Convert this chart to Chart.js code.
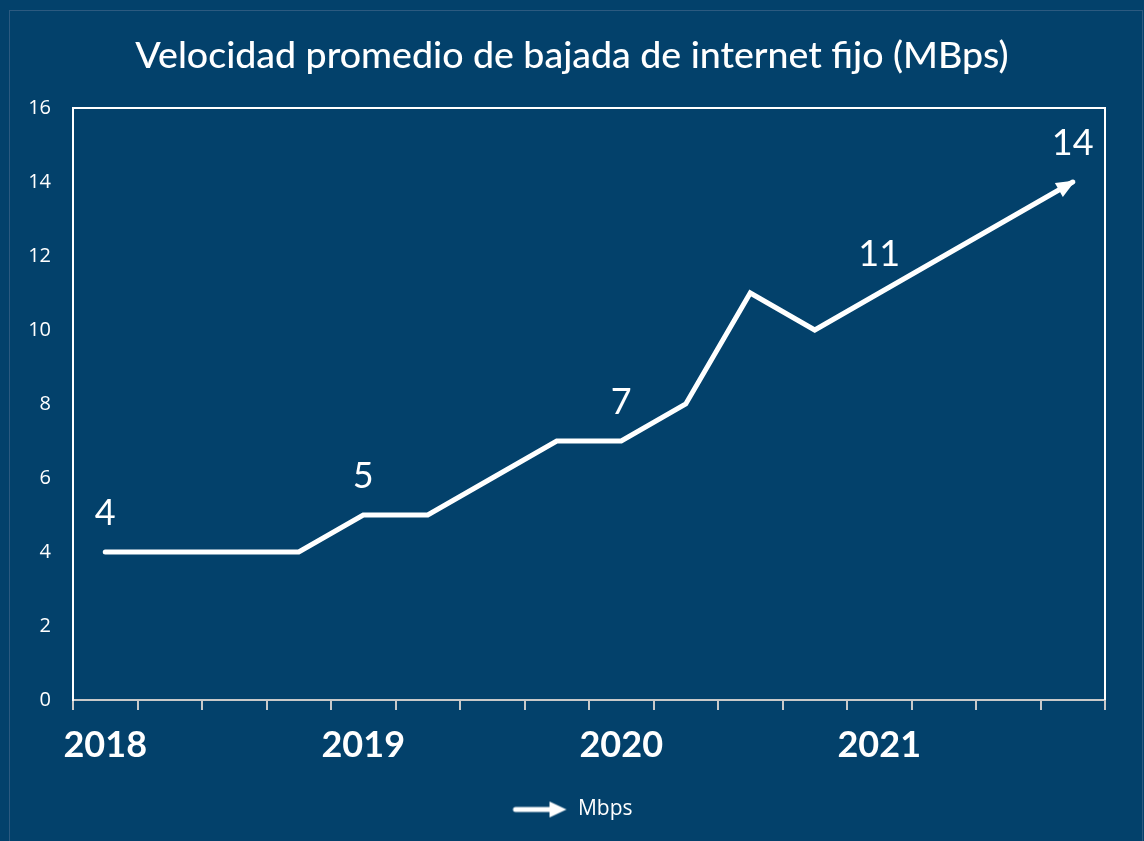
<!DOCTYPE html>
<html>
<head>
    <title>Velocidad promedio de bajada de internet fijo</title>
    <script src="https://cdn.jsdelivr.net/npm/chart.js"></script>
    <style>
        body {
            margin: 0;
            background: #03416b;
            width: 1144px;
            height: 841px;
            overflow: hidden;
        }
        .frame {
            position: absolute;
            left: 9px;
            top: 10px;
            width: 1132px;
            height: 840px;
            border: 1px solid #2c5a80;
        }
        .wrap {
            position: absolute;
            left: 0;
            top: 0;
            width: 1144px;
            height: 841px;
        }
    </style>
</head>
<body>
    <div class="frame"></div>
    <div class="wrap"><canvas id="speedChart" width="1144" height="841"></canvas></div>

    <script>
        // trimestres 2018 - 2021, solo se rotula el primero de cada año
        const quarters = ['2018', '', '', '', '2019', '', '', '', '2020', '', '', '', '2021', '', '', ''];
        const speed = [4, 4, 4, 4, 5, 5, 6, 7, 7, 8, 11, 10, 11, 12, 13, 14];
        const labelAt = [0, 4, 8, 12, 15];
        const yTicks = [0, 2, 4, 6, 8, 10, 12, 14, 16];

        const WHITE = '#ffffff';
        const AXIS_GRAY = '#c9c9c9';

        // icono de flecha para la leyenda
        const legendArrow = document.createElement('canvas');
        legendArrow.width = 56;
        legendArrow.height = 20;
        (function () {
            const c = legendArrow.getContext('2d');
            c.strokeStyle = WHITE;
            c.fillStyle = WHITE;
            c.lineWidth = 5;
            c.lineCap = 'round';
            c.beginPath();
            c.moveTo(4, 10);
            c.lineTo(40, 10);
            c.stroke();
            c.beginPath();
            c.moveTo(55, 10);
            c.lineTo(38, 2);
            c.lineTo(38, 18);
            c.closePath();
            c.fill();
        })();

        const overlay = {
            id: 'overlay',
            beforeDatasetsDraw(chart) {
                const { ctx, chartArea: a } = chart;
                ctx.save();
                ctx.strokeStyle = WHITE;
                ctx.lineWidth = 2;
                ctx.beginPath();
                ctx.moveTo(a.left, a.bottom);
                ctx.lineTo(a.left, a.top);
                ctx.lineTo(a.right, a.top);
                ctx.lineTo(a.right, a.bottom);
                ctx.stroke();
                ctx.restore();
            },
            afterDatasetsDraw(chart) {
                const { ctx } = chart;
                const pts = chart.getDatasetMeta(0).data;
                const p0 = pts[pts.length - 2], p1 = pts[pts.length - 1];
                const ang = Math.atan2(p1.y - p0.y, p1.x - p0.x);
                ctx.save();
                ctx.fillStyle = WHITE;
                ctx.translate(p1.x, p1.y);
                ctx.rotate(ang);
                ctx.beginPath();
                ctx.moveTo(3, 0);
                ctx.lineTo(-16, -8);
                ctx.lineTo(-16, 8);
                ctx.closePath();
                ctx.fill();
                ctx.restore();

                ctx.save();
                ctx.fillStyle = WHITE;
                ctx.font = '36px Lato';
                ctx.textAlign = 'center';
                ctx.textBaseline = 'middle';
                labelAt.forEach(i => {
                    ctx.fillText(String(speed[i]), pts[i].x, pts[i].y - 39);
                });
                ctx.restore();
            }
        };

        new Chart(document.getElementById('speedChart'), {
            type: 'line',
            data: {
                labels: quarters,
                datasets: [{
                    label: 'Mbps',
                    data: speed,
                    borderColor: WHITE,
                    backgroundColor: WHITE,
                    borderWidth: 5,
                    borderCapStyle: 'round',
                    pointRadius: 0,
                    pointHoverRadius: 0,
                    tension: 0
                }]
            },
            options: {
                responsive: false,
                animation: false,
                layout: { padding: { left: 0, right: 0, top: 0, bottom: 11 } },
                plugins: {
                    title: {
                        display: true,
                        text: 'Velocidad promedio de bajada de internet fijo (MBps)',
                        color: WHITE,
                        font: { family: 'Lato', size: 37.5, weight: '500', lineHeight: 1.2 },
                        padding: { top: 33, bottom: 30 }
                    },
                    legend: {
                        position: 'bottom',
                        labels: {
                            color: WHITE,
                            usePointStyle: true,
                            pointStyle: legendArrow,
                            pointStyleWidth: 56,
                            padding: 19,
                            font: { family: 'Open Sans', size: 21 }
                        }
                    },
                    tooltip: { enabled: false }
                },
                scales: {
                    x: {
                        offset: true,
                        grid: {
                            offset: true,
                            drawOnChartArea: false,
                            drawTicks: true,
                            tickLength: 10,
                            color: AXIS_GRAY,
                            lineWidth: 2
                        },
                        border: { color: AXIS_GRAY, width: 2 },
                        ticks: {
                            autoSkip: false,
                            maxRotation: 0,
                            color: WHITE,
                            padding: 14,
                            font: { family: 'Lato', size: 36, weight: 'bold' }
                        },
                        afterFit: s => { s.height = 80; }
                    },
                    y: {
                        min: 0,
                        max: 16,
                        afterBuildTicks: s => { s.ticks = yTicks.map(v => ({ value: v })); },
                        grid: { drawOnChartArea: false, drawTicks: false },
                        border: { color: WHITE, width: 2 },
                        ticks: {
                            color: WHITE,
                            padding: 22,
                            font: { family: 'Open Sans', size: 20 }
                        },
                        afterFit: s => { s.width = 73; }
                    },
                    // margen derecho: eje vacío para que título y leyenda queden centrados en el lienzo
                    yRight: {
                        position: 'right',
                        min: 0,
                        max: 16,
                        grid: { display: false },
                        border: { display: false },
                        ticks: { display: false },
                        afterFit: s => { s.width = 39; }
                    }
                }
            },
            plugins: [overlay]
        });
    </script>
</body>
</html>
